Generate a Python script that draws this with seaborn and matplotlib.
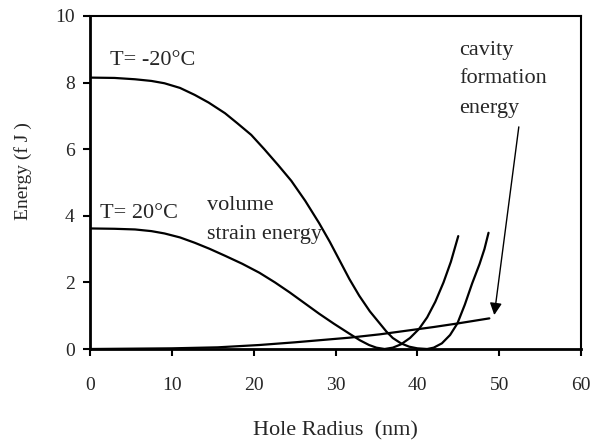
import matplotlib
matplotlib.use("Agg")
import matplotlib.pyplot as plt
import seaborn as sns
import pandas as pd

# ---- data ----
x_cold = [0, 3, 5.5, 7.5, 9.1, 11.0, 12.8, 14.5, 16.5, 18.0, 19.7, 21.3, 23.0, 24.6, 26.3, 28.0,
          29.3, 30.5, 31.7, 32.9, 34.2, 35.4, 36.2, 37.0, 38.0, 39.0, 40.0, 41.2, 42.0, 43.0,
          44.0, 44.9, 45.8, 46.7, 47.6, 48.2, 48.7]
y_cold = [8.15, 8.14, 8.10, 8.05, 7.98, 7.84, 7.63, 7.40, 7.08, 6.78, 6.43, 6.00, 5.52, 5.05, 4.45, 3.78,
          3.22, 2.66, 2.10, 1.60, 1.13, 0.77, 0.53, 0.33, 0.17, 0.07, 0.02, 0.0, 0.04, 0.17,
          0.42, 0.77, 1.33, 1.97, 2.55, 3.0, 3.49]

x_warm = [0, 3, 5.5, 7.5, 9.1, 11.0, 12.8, 14.6, 16.5, 18.6, 20.7, 22.6, 24.4, 26.2, 28.0, 29.8,
          31.7, 33.0, 34.1, 35.0, 36.0, 37.0, 38.0, 39.1, 40.2, 41.2, 42.2, 43.2, 44.1, 45.0]
y_warm = [3.62, 3.61, 3.59, 3.54, 3.47, 3.35, 3.19, 3.01, 2.80, 2.56, 2.29, 2.00, 1.70, 1.38, 1.06, 0.76,
          0.46, 0.26, 0.12, 0.04, 0.0, 0.04, 0.14, 0.33, 0.60, 0.95, 1.42, 2.0, 2.62, 3.39]

x_cav = [0, 10, 15.6, 20.7, 25.0, 31.7, 35.4, 39.0, 42.0, 45.0, 48.8]
y_cav = [0, 0.02, 0.05, 0.12, 0.20, 0.34, 0.44, 0.56, 0.66, 0.77, 0.92]

x_ticks = [0, 10, 20, 30, 40, 50, 60]
y_ticks = [0, 2, 4, 6, 8, 10]

sns.set_style("ticks")
plt.rcParams["font.family"] = ["Liberation Serif", "DejaVu Serif"]

fig = plt.figure(figsize=(6.03, 4.46), dpi=100)
ax = fig.add_axes([90/603, 1-349/446, 491/603, 333/446])

df_cold = pd.DataFrame({"x": x_cold, "y": y_cold})
df_warm = pd.DataFrame({"x": x_warm, "y": y_warm})
df_cav = pd.DataFrame({"x": x_cav, "y": y_cav})
for d in (df_cold, df_warm, df_cav):
    sns.lineplot(data=d, x="x", y="y", ax=ax, color="black", lw=1.6,
                 estimator=None, sort=False)

ax.set_xlim(0, 60)
ax.set_ylim(0, 10)
ax.set_xticks(x_ticks)
ax.set_yticks(y_ticks)
ax.tick_params(direction="out", length=5, width=1.5, labelsize=14, color="black")
ax.tick_params(axis="x", pad=15)
ax.tick_params(axis="y", pad=6)

for s in ("left", "bottom"):
    ax.spines[s].set_linewidth(2.0)
for s in ("top", "right"):
    ax.spines[s].set_visible(True)
    ax.spines[s].set_linewidth(1.5)
for s in ax.spines.values():
    s.set_color("black")

ax.set_xlabel("Hole Radius  (nm)", fontsize=16)
ax.set_ylabel("Energy (f J )", fontsize=14)
ax.xaxis.set_label_coords(0.5, -0.218)
ax.yaxis.set_label_coords(-0.118, 0.535)

ax.text(2.44, 8.53, "T= -20°C", fontsize=16, va="baseline", ha="left")
ax.text(1.22, 3.93, "T= 20°C", fontsize=16, va="baseline", ha="left")
ax.text(14.3, 4.17, "volume", fontsize=16, va="baseline", ha="left")
ax.text(14.3, 3.30, "strain energy", fontsize=16, va="baseline", ha="left")
ax.text(45.1, 8.83, "cavity", fontsize=16, va="baseline", ha="left")
ax.text(45.1, 7.99, "formation", fontsize=16, va="baseline", ha="left")
ax.text(45.1, 7.09, "energy", fontsize=16, va="baseline", ha="left")

ax.annotate("", xy=(49.4, 1.02), xytext=(52.4, 6.67),
            arrowprops=dict(arrowstyle="-|>", color="black", lw=1.0,
                            mutation_scale=18, shrinkA=0, shrinkB=0))

fig.savefig("out.png", dpi=100)
